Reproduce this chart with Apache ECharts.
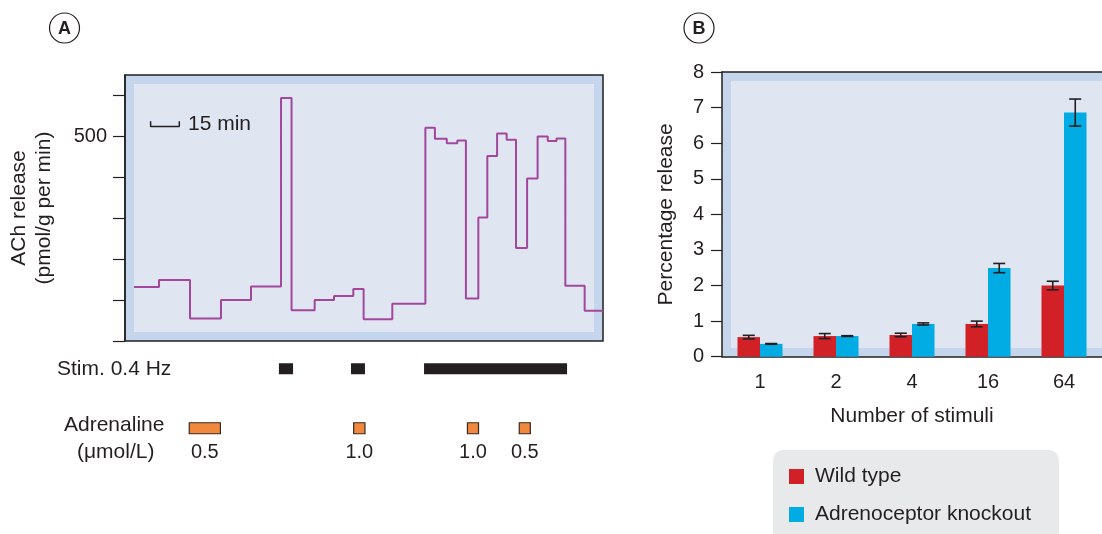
<!DOCTYPE html>
<html>
<head>
<meta charset="utf-8">
<script src="https://cdn.jsdelivr.net/npm/echarts@6/dist/echarts.min.js"></script>
<style>
  html, body { margin: 0; padding: 0; background: #fff; }
  #main { width: 1102px; height: 534px; }
</style>
</head>
<body>
<div id="main"></div>
<script>
// ---------------- panel A data ----------------
var timeSteps = [4.7, 17.8, 34.0, 50.2, 65.9, 81.6, 87.1, 99.2, 109.3, 119.4, 124.8, 139.8, 157.1, 162.1, 168.3,
                 173.8, 178.3, 184.8, 189.5, 194.6, 199.6, 204.5, 210.3, 215.8, 221.1, 225.7, 230.3, 240.4, 250];
var achRelease = [132, 149, 55, 100, 133, 594, 75, 100, 110, 127, 53, 91, 521, 494, 483,
                  490, 104, 302, 452, 507, 492, 227, 397, 500, 489, 495, 135, 74, 74];
var achTicks = [0, 100, 200, 300, 400, 500, 600];
var achLabels = [500];
var scaleBarStart = 13.4;
var scaleBarLen = 15;

var stimOn = [80.5, 118.2, 156.4];
var stimOff = [87.9, 125.5, 231.2];
var adrStart = [33.6, 119.6, 179.1, 206.2];
var adrEnd = [49.9, 125.5, 184.9, 212.0];
var adrDose = ['0.5', '1.0', '1.0', '0.5'];

// ---------------- panel B data ----------------
var stimuliCats = ['1', '2', '4', '16', '64'];
var wildType = [0.55, 0.58, 0.61, 0.92, 2.0];
var wildErr = [0.05, 0.07, 0.05, 0.08, 0.12];
var knockout = [0.36, 0.58, 0.92, 2.49, 6.86];
var knockoutErr = [0.01, 0.01, 0.03, 0.13, 0.38];

var ink = '#231f20';
var font = 'Liberation Sans';
var bandColor = '#c5d6ec';
var innerColor = '#dfe6f2';
var barW = 22.5;
var wordSize = 21;

var chart = echarts.init(document.getElementById('main'));

var traceData = timeSteps.map(function (t, i) { return [t, achRelease[i]]; });
var scaleBar = [
  [scaleBarStart, 537], [scaleBarStart, 524],
  [scaleBarStart + scaleBarLen, 524], [scaleBarStart + scaleBarLen, 537]
];

function errRender(offset) {
  return function (params, api) {
    var c = api.value(0), v = api.value(1), e = api.value(2);
    var x = api.coord([c, v])[0] + offset;
    var hi = api.coord([c, v + e])[1];
    var lo = api.coord([c, v - e])[1];
    var st = { stroke: ink, lineWidth: 1.6 };
    return {
      type: 'group',
      children: [
        { type: 'line', shape: { x1: x, y1: hi, x2: x, y2: lo }, style: st },
        { type: 'line', shape: { x1: x - 6, y1: hi, x2: x + 6, y2: hi }, style: st },
        { type: 'line', shape: { x1: x - 6, y1: lo, x2: x + 6, y2: lo }, style: st }
      ]
    };
  };
}

function circleLabel(cx, cy, txt) {
  return {
    type: 'group', z: 2,
    children: [
      { type: 'circle', z: 2, shape: { cx: cx, cy: cy, r: 15 }, style: { fill: '#fff', stroke: ink, lineWidth: 1.2 } },
      { type: 'text', z: 3, x: cx, y: cy + 1, style: { text: txt, fill: ink, font: 'bold 18px "' + font + '"', align: 'center', verticalAlign: 'middle' } }
    ]
  };
}

function plainText(x, y, txt) {
  return { type: 'text', z: 3, x: x, y: y, style: { text: txt, fill: ink, font: wordSize + 'px "' + font + '"', verticalAlign: 'middle' } };
}

function legendItem(name, top) {
  return {
    data: [name], left: 773, top: top, padding: [0, 0, 0, 16],
    itemWidth: 15, itemHeight: 15, icon: 'rect',
    textStyle: { fontSize: wordSize, color: ink, padding: [0, 0, 0, 6] }
  };
}

var option = {
  animation: false,
  textStyle: { fontFamily: font, color: ink },
  grid: [
    { left: 125, top: 75, width: 478, height: 266, show: true, backgroundColor: bandColor, borderColor: ink, borderWidth: 1.5 },
    { left: 722, top: 72, width: 389, height: 284.7, show: true, backgroundColor: bandColor, borderWidth: 0 },
    { left: 125, top: 339, width: 478, height: 119 }
  ],
  xAxis: [
    { gridIndex: 0, type: 'value', min: 0, max: 250, show: false },
    {
      gridIndex: 1, type: 'category', data: stimuliCats,
      axisLine: { lineStyle: { color: ink, width: 1.5 } },
      axisTick: { length: 10, lineStyle: { color: ink, width: 1.2 } },
      axisLabel: { fontSize: 20, color: ink, margin: 16 },
      name: 'Number of stimuli', nameLocation: 'middle', nameGap: 49,
      nameTextStyle: { fontSize: wordSize, color: ink }
    },
    {
      gridIndex: 1, type: 'category', data: stimuliCats, position: 'top',
      axisLine: { lineStyle: { color: ink, width: 1.5 } },
      axisTick: { inside: true, length: 8, lineStyle: { color: ink, width: 1.2 } },
      axisLabel: { show: false }
    },
    { gridIndex: 2, type: 'value', min: 0, max: 250, show: false }
  ],
  yAxis: [
    {
      gridIndex: 0, type: 'value', min: 0, max: 650,
      axisLine: { show: true, lineStyle: { color: ink, width: 1.5 } },
      axisTick: { show: true, length: 12, customValues: achTicks, lineStyle: { color: ink, width: 1.2 } },
      axisLabel: { customValues: achLabels, fontSize: 20, color: ink, margin: 18 },
      splitLine: { show: false },
      name: 'ACh release\n(pmol/g per min)', nameLocation: 'middle', nameGap: 68,
      nameTextStyle: { fontSize: wordSize, color: ink, lineHeight: 25 }
    },
    {
      gridIndex: 1, type: 'value', min: 0, max: 8, interval: 1,
      axisLine: { show: true, lineStyle: { color: ink, width: 1.5 } },
      axisTick: { show: true, length: 11, lineStyle: { color: ink, width: 1.2 } },
      axisLabel: { fontSize: 20, color: ink, margin: 18 },
      splitLine: { show: false },
      name: 'Percentage release', nameLocation: 'middle', nameGap: 45,
      nameTextStyle: { fontSize: wordSize, color: ink }
    },
    { gridIndex: 2, type: 'category', data: ['Stim', 'Adrenaline'], inverse: true, show: false }
  ],
  legend: [
    legendItem('Wild type', 466),
    legendItem('Adrenoceptor knockout', 504)
  ],
  series: [
    {
      type: 'line', xAxisIndex: 0, yAxisIndex: 0, data: traceData, step: 'end',
      showSymbol: false, lineStyle: { color: '#a3479c', width: 2 }, z: 3
    },
    {
      type: 'line', xAxisIndex: 0, yAxisIndex: 0, data: scaleBar,
      showSymbol: false, lineStyle: { color: ink, width: 1.5 }, z: 3
    },
    {
      type: 'custom', xAxisIndex: 3, yAxisIndex: 2,
      data: stimOn.map(function (s, i) { return [s, stimOff[i], 0]; }),
      encode: { x: [0, 1], y: 2 },
      renderItem: function (params, api) {
        var a = api.coord([api.value(0), api.value(2)]);
        var b = api.coord([api.value(1), api.value(2)]);
        return { type: 'rect', shape: { x: a[0], y: a[1] - 5.5, width: b[0] - a[0], height: 11 }, style: { fill: ink } };
      }
    },
    {
      type: 'custom', xAxisIndex: 3, yAxisIndex: 2,
      data: adrStart.map(function (s, i) { return [s, adrEnd[i], 1]; }),
      encode: { x: [0, 1], y: 2 },
      renderItem: function (params, api) {
        var a = api.coord([api.value(0), api.value(2)]);
        var b = api.coord([api.value(1), api.value(2)]);
        return {
          type: 'group',
          children: [
            { type: 'rect', shape: { x: a[0], y: a[1] - 5.5, width: b[0] - a[0], height: 11 },
              style: { fill: '#f0883e', stroke: '#3a2a20', lineWidth: 1.2 } },
            { type: 'text', x: (a[0] + b[0]) / 2, y: a[1] + 24,
              style: { text: adrDose[params.dataIndex], fill: ink, font: '20px "' + font + '"', align: 'center', verticalAlign: 'middle' } }
          ]
        };
      }
    },
    {
      name: 'Wild type', type: 'bar', xAxisIndex: 1, yAxisIndex: 1, data: wildType,
      barWidth: barW, barGap: '0%', itemStyle: { color: '#d12127' }
    },
    {
      name: 'Adrenoceptor knockout', type: 'bar', xAxisIndex: 1, yAxisIndex: 1, data: knockout,
      barWidth: barW, barGap: '0%', itemStyle: { color: '#00ace3' }
    },
    {
      type: 'custom', xAxisIndex: 1, yAxisIndex: 1, z: 5,
      data: wildType.map(function (v, i) { return [i, v, wildErr[i]]; }),
      renderItem: errRender(-barW / 2)
    },
    {
      type: 'custom', xAxisIndex: 1, yAxisIndex: 1, z: 5,
      data: knockout.map(function (v, i) { return [i, v, knockoutErr[i]]; }),
      renderItem: errRender(barW / 2)
    }
  ],
  graphic: [
    { type: 'rect', z: 1, shape: { x: 134, y: 84, width: 460, height: 248 }, style: { fill: innerColor } },
    { type: 'rect', z: 1, shape: { x: 731, y: 81, width: 380, height: 267 }, style: { fill: innerColor } },
    { type: 'rect', z: 1, shape: { x: 773, y: 450, width: 286, height: 110, r: 10 }, style: { fill: '#e8e9eb' } },
    circleLabel(64.5, 28, 'A'),
    circleLabel(699, 28, 'B'),
    plainText(188, 124, '15 min'),
    plainText(57, 369, 'Stim. 0.4 Hz'),
    plainText(64, 425, 'Adrenaline'),
    plainText(77, 452, '(\u03bcmol/L)')
  ]
};

chart.setOption(option);
</script>
</body>
</html>
